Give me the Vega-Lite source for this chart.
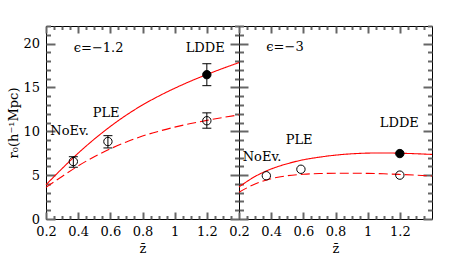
{
  "$schema": "https://vega.github.io/schema/vega-lite/v6.json",
  "padding": {"left": 7, "top": 24, "right": 5, "bottom": 5},
  "spacing": 0,
  "bounds": "flush",
  "config": {
    "view": {"stroke": "black", "strokeWidth": 1},
    "axis": {
      "grid": false,
      "labelColor": "black", "titleColor": "black",
      "labelFont": "DejaVu Serif", "titleFont": "DejaVu Serif",
      "labelFontSize": 13, "titleFontSize": 13, "titleFontWeight": "normal",
      "labelFlush": false, "labelOverlap": false, "format": "~g"
    }
  },
  "datasets": {
    "curves": [
      {"panel": "L", "style": "solid", "x": 0.2, "y": 3.9},
      {"panel": "L", "style": "solid", "x": 0.3, "y": 5.75},
      {"panel": "L", "style": "solid", "x": 0.4, "y": 7.5},
      {"panel": "L", "style": "solid", "x": 0.5, "y": 9.1},
      {"panel": "L", "style": "solid", "x": 0.6, "y": 10.55},
      {"panel": "L", "style": "solid", "x": 0.7, "y": 11.85},
      {"panel": "L", "style": "solid", "x": 0.8, "y": 13.0},
      {"panel": "L", "style": "solid", "x": 0.9, "y": 14.0},
      {"panel": "L", "style": "solid", "x": 1.0, "y": 14.9},
      {"panel": "L", "style": "solid", "x": 1.1, "y": 15.72},
      {"panel": "L", "style": "solid", "x": 1.2, "y": 16.47},
      {"panel": "L", "style": "solid", "x": 1.3, "y": 17.17},
      {"panel": "L", "style": "solid", "x": 1.4, "y": 17.83},
      {"panel": "L", "style": "dashed", "x": 0.2, "y": 3.6},
      {"panel": "L", "style": "dashed", "x": 0.3, "y": 4.85},
      {"panel": "L", "style": "dashed", "x": 0.4, "y": 6.05},
      {"panel": "L", "style": "dashed", "x": 0.5, "y": 7.1},
      {"panel": "L", "style": "dashed", "x": 0.6, "y": 8.0},
      {"panel": "L", "style": "dashed", "x": 0.7, "y": 8.78},
      {"panel": "L", "style": "dashed", "x": 0.8, "y": 9.45},
      {"panel": "L", "style": "dashed", "x": 0.9, "y": 10.0},
      {"panel": "L", "style": "dashed", "x": 1.0, "y": 10.47},
      {"panel": "L", "style": "dashed", "x": 1.1, "y": 10.88},
      {"panel": "L", "style": "dashed", "x": 1.2, "y": 11.24},
      {"panel": "L", "style": "dashed", "x": 1.3, "y": 11.57},
      {"panel": "L", "style": "dashed", "x": 1.4, "y": 11.87},
      {"panel": "R", "style": "solid", "x": 0.2, "y": 3.65},
      {"panel": "R", "style": "solid", "x": 0.3, "y": 4.85},
      {"panel": "R", "style": "solid", "x": 0.4, "y": 5.7},
      {"panel": "R", "style": "solid", "x": 0.5, "y": 6.3},
      {"panel": "R", "style": "solid", "x": 0.6, "y": 6.75},
      {"panel": "R", "style": "solid", "x": 0.7, "y": 7.05},
      {"panel": "R", "style": "solid", "x": 0.8, "y": 7.28},
      {"panel": "R", "style": "solid", "x": 0.9, "y": 7.43},
      {"panel": "R", "style": "solid", "x": 1.0, "y": 7.51},
      {"panel": "R", "style": "solid", "x": 1.1, "y": 7.53},
      {"panel": "R", "style": "solid", "x": 1.2, "y": 7.5},
      {"panel": "R", "style": "solid", "x": 1.3, "y": 7.44},
      {"panel": "R", "style": "solid", "x": 1.4, "y": 7.36},
      {"panel": "R", "style": "dashed", "x": 0.2, "y": 3.05},
      {"panel": "R", "style": "dashed", "x": 0.3, "y": 4.0},
      {"panel": "R", "style": "dashed", "x": 0.4, "y": 4.6},
      {"panel": "R", "style": "dashed", "x": 0.5, "y": 4.93},
      {"panel": "R", "style": "dashed", "x": 0.6, "y": 5.1},
      {"panel": "R", "style": "dashed", "x": 0.7, "y": 5.18},
      {"panel": "R", "style": "dashed", "x": 0.8, "y": 5.22},
      {"panel": "R", "style": "dashed", "x": 0.9, "y": 5.22},
      {"panel": "R", "style": "dashed", "x": 1.0, "y": 5.2},
      {"panel": "R", "style": "dashed", "x": 1.1, "y": 5.15},
      {"panel": "R", "style": "dashed", "x": 1.2, "y": 5.08},
      {"panel": "R", "style": "dashed", "x": 1.3, "y": 5.0},
      {"panel": "R", "style": "dashed", "x": 1.4, "y": 4.9}
    ],
    "points": [
      {"panel": "L", "x": 0.37, "y": 6.55, "lo": 5.9, "hi": 7.1, "filled": "no"},
      {"panel": "L", "x": 0.585, "y": 8.83, "lo": 8.1, "hi": 9.5, "filled": "no"},
      {"panel": "L", "x": 1.2, "y": 16.45, "lo": 15.2, "hi": 17.7, "filled": "yes"},
      {"panel": "L", "x": 1.2, "y": 11.2, "lo": 10.35, "hi": 12.1, "filled": "no"},
      {"panel": "R", "x": 0.37, "y": 4.93, "lo": null, "hi": null, "filled": "no"},
      {"panel": "R", "x": 0.585, "y": 5.67, "lo": null, "hi": null, "filled": "no"},
      {"panel": "R", "x": 1.2, "y": 7.46, "lo": null, "hi": null, "filled": "yes"},
      {"panel": "R", "x": 1.2, "y": 5.0, "lo": null, "hi": null, "filled": "no"}
    ],
    "labels": [
      {"panel": "L", "x": 0.527, "y": 19.5, "text": "ϵ=−1.2"},
      {"panel": "L", "x": 1.19, "y": 19.5, "text": "LDDE"},
      {"panel": "L", "x": 0.574, "y": 12.07, "text": "PLE"},
      {"panel": "L", "x": 0.347, "y": 10.05, "text": "NoEv."},
      {"panel": "R", "x": 0.486, "y": 19.6, "text": "ϵ=−3"},
      {"panel": "R", "x": 1.197, "y": 11.0, "text": "LDDE"},
      {"panel": "R", "x": 0.574, "y": 9.0, "text": "PLE"},
      {"panel": "R", "x": 0.343, "y": 7.09, "text": "NoEv."}
    ]
  },
  "hconcat": [
    {
      "width": 193, "height": 193,
      "resolve": {"axis": {"x": "independent", "y": "independent"}},
      "layer": [
        {
          "data": {"name": "curves"},
          "transform": [{"filter": "datum.panel === 'L'"}],
          "mark": {"type": "line", "color": "#ff0000", "strokeWidth": 1.1, "interpolate": "monotone"},
          "encoding": {
            "x": {"field": "x", "type": "quantitative", "scale": {"domain": [0.2, 1.4], "nice": false, "zero": false},
              "axis": {"orient": "bottom", "values": [0.2, 0.4, 0.6, 0.8, 1, 1.2], "domain": false, "ticks": true, "tickColor": "#666", "tickWidth": 2, "tickSize": 7, "offset": -7, "labelPadding": 6.5, "title": "z̄", "titlePadding": 4}},
            "y": {"field": "y", "type": "quantitative", "scale": {"domain": [0, 22], "nice": false, "zero": false},
              "axis": {"orient": "left", "values": [0, 5, 10, 15, 20], "domain": false, "ticks": true, "tickColor": "#666", "tickWidth": 2, "tickSize": 9, "offset": -9, "labelPadding": 6.5, "title": "r₀(h⁻¹Mpc)", "titlePadding": 2}},
            "detail": {"field": "style"},
            "strokeDash": {"field": "style", "type": "nominal", "scale": {"domain": ["solid", "dashed"], "range": [[1, 0], [9, 4]]}, "legend": null}
          }
        },
        {
          "data": {"name": "points"},
          "transform": [{"filter": "datum.panel === 'L' && isValid(datum.lo)"}],
          "mark": {"type": "rule", "color": "black", "strokeWidth": 1},
          "encoding": {
            "x": {"field": "x", "type": "quantitative", "scale": {"domain": [0.2, 1.4], "nice": false, "zero": false},
              "axis": {"orient": "bottom", "values": [0.25, 0.3, 0.35, 0.45, 0.5, 0.55, 0.65, 0.7, 0.75, 0.85, 0.9, 0.95, 1.05, 1.1, 1.15, 1.25, 1.3, 1.35], "domain": false, "ticks": true, "tickColor": "#666", "tickWidth": 2, "tickSize": 3.5, "offset": -3.5, "labels": false, "title": null}},
            "y": {"field": "lo", "type": "quantitative", "scale": {"domain": [0, 22], "nice": false, "zero": false},
              "axis": {"orient": "left", "values": [1, 2, 3, 4, 6, 7, 8, 9, 11, 12, 13, 14, 16, 17, 18, 19, 21, 22], "domain": false, "ticks": true, "tickColor": "#666", "tickWidth": 2, "tickSize": 4.5, "offset": -4.5, "labels": false, "title": null}},
            "y2": {"field": "hi"}
          }
        },
        {
          "data": {"name": "points"},
          "transform": [{"filter": "datum.panel === 'L' && isValid(datum.lo)"}],
          "mark": {"type": "tick", "orient": "horizontal", "size": 9, "thickness": 1, "color": "black", "opacity": 1},
          "encoding": {
            "x": {"field": "x", "type": "quantitative", "scale": {"domain": [0.2, 1.4], "nice": false, "zero": false},
              "axis": {"orient": "top", "values": [0.2, 0.4, 0.6, 0.8, 1, 1.2], "domain": false, "ticks": true, "tickColor": "#666", "tickWidth": 2, "tickSize": 7, "offset": -7, "labels": false, "title": null}},
            "y": {"field": "lo", "type": "quantitative", "scale": {"domain": [0, 22], "nice": false, "zero": false},
              "axis": {"orient": "right", "values": [0, 5, 10, 15, 20], "domain": false, "ticks": true, "tickColor": "#666", "tickWidth": 2, "tickSize": 9, "offset": -9, "labels": false, "title": null}}
          }
        },
        {
          "data": {"name": "points"},
          "transform": [{"filter": "datum.panel === 'L' && isValid(datum.lo)"}],
          "mark": {"type": "tick", "orient": "horizontal", "size": 9, "thickness": 1, "color": "black", "opacity": 1},
          "encoding": {
            "x": {"field": "x", "type": "quantitative", "scale": {"domain": [0.2, 1.4], "nice": false, "zero": false},
              "axis": {"orient": "top", "values": [0.25, 0.3, 0.35, 0.45, 0.5, 0.55, 0.65, 0.7, 0.75, 0.85, 0.9, 0.95, 1.05, 1.1, 1.15, 1.25, 1.3, 1.35], "domain": false, "ticks": true, "tickColor": "#666", "tickWidth": 2, "tickSize": 3.5, "offset": -3.5, "labels": false, "title": null}},
            "y": {"field": "hi", "type": "quantitative", "scale": {"domain": [0, 22], "nice": false, "zero": false},
              "axis": {"orient": "right", "values": [1, 2, 3, 4, 6, 7, 8, 9, 11, 12, 13, 14, 16, 17, 18, 19, 21, 22], "domain": false, "ticks": true, "tickColor": "#666", "tickWidth": 2, "tickSize": 4.5, "offset": -4.5, "labels": false, "title": null}}
          }
        },
        {
          "data": {"name": "points"},
          "transform": [{"filter": "datum.panel === 'L'"}],
          "mark": {"type": "point", "shape": "circle", "filled": true, "stroke": "black", "strokeWidth": 1, "size": 70, "opacity": 1},
          "encoding": {
            "x": {"field": "x", "type": "quantitative", "axis": null},
            "y": {"field": "y", "type": "quantitative", "axis": null},
            "fill": {"field": "filled", "type": "nominal", "scale": {"domain": ["yes", "no"], "range": ["black", "transparent"]}, "legend": null}
          }
        },
        {
          "data": {"name": "labels"},
          "transform": [{"filter": "datum.panel === 'L'"}],
          "mark": {"type": "text", "font": "DejaVu Serif", "fontSize": 13, "color": "black", "align": "center", "baseline": "middle"},
          "encoding": {
            "x": {"field": "x", "type": "quantitative", "axis": null},
            "y": {"field": "y", "type": "quantitative", "axis": null},
            "text": {"field": "text"}
          }
        }
      ]
    },
    {
      "width": 193, "height": 193,
      "resolve": {"axis": {"x": "independent", "y": "independent"}},
      "layer": [
        {
          "data": {"name": "curves"},
          "transform": [{"filter": "datum.panel === 'R'"}],
          "mark": {"type": "line", "color": "#ff0000", "strokeWidth": 1.1, "interpolate": "monotone"},
          "encoding": {
            "x": {"field": "x", "type": "quantitative", "scale": {"domain": [0.2, 1.4], "nice": false, "zero": false},
              "axis": {"orient": "bottom", "values": [0.2, 0.4, 0.6, 0.8, 1, 1.2], "domain": false, "ticks": true, "tickColor": "#666", "tickWidth": 2, "tickSize": 7, "offset": -7, "labelPadding": 6.5, "title": "z̄", "titlePadding": 4}},
            "y": {"field": "y", "type": "quantitative", "scale": {"domain": [0, 22], "nice": false, "zero": false},
              "axis": {"orient": "left", "values": [0, 5, 10, 15, 20], "domain": false, "ticks": true, "tickColor": "#666", "tickWidth": 2, "tickSize": 9, "offset": -9, "labels": false, "title": null}},
            "detail": {"field": "style"},
            "strokeDash": {"field": "style", "type": "nominal", "scale": {"domain": ["solid", "dashed"], "range": [[1, 0], [9, 4]]}, "legend": null}
          }
        },
        {
          "data": {"name": "points"},
          "transform": [{"filter": "datum.panel === 'R'"}],
          "mark": {"type": "point", "shape": "circle", "filled": true, "stroke": "black", "strokeWidth": 1, "size": 70, "opacity": 1},
          "encoding": {
            "x": {"field": "x", "type": "quantitative", "scale": {"domain": [0.2, 1.4], "nice": false, "zero": false},
              "axis": {"orient": "bottom", "values": [0.25, 0.3, 0.35, 0.45, 0.5, 0.55, 0.65, 0.7, 0.75, 0.85, 0.9, 0.95, 1.05, 1.1, 1.15, 1.25, 1.3, 1.35], "domain": false, "ticks": true, "tickColor": "#666", "tickWidth": 2, "tickSize": 3.5, "offset": -3.5, "labels": false, "title": null}},
            "y": {"field": "y", "type": "quantitative", "scale": {"domain": [0, 22], "nice": false, "zero": false},
              "axis": {"orient": "left", "values": [1, 2, 3, 4, 6, 7, 8, 9, 11, 12, 13, 14, 16, 17, 18, 19, 21, 22], "domain": false, "ticks": true, "tickColor": "#666", "tickWidth": 2, "tickSize": 4.5, "offset": -4.5, "labels": false, "title": null}},
            "fill": {"field": "filled", "type": "nominal", "scale": {"domain": ["yes", "no"], "range": ["black", "transparent"]}, "legend": null}
          }
        },
        {
          "data": {"name": "labels"},
          "transform": [{"filter": "datum.panel === 'R'"}],
          "mark": {"type": "text", "font": "DejaVu Serif", "fontSize": 13, "color": "black", "align": "center", "baseline": "middle"},
          "encoding": {
            "x": {"field": "x", "type": "quantitative", "scale": {"domain": [0.2, 1.4], "nice": false, "zero": false},
              "axis": {"orient": "top", "values": [0.2, 0.4, 0.6, 0.8, 1, 1.2], "domain": false, "ticks": true, "tickColor": "#666", "tickWidth": 2, "tickSize": 7, "offset": -7, "labels": false, "title": null}},
            "y": {"field": "y", "type": "quantitative", "scale": {"domain": [0, 22], "nice": false, "zero": false},
              "axis": {"orient": "right", "values": [0, 5, 10, 15, 20], "domain": false, "ticks": true, "tickColor": "#666", "tickWidth": 2, "tickSize": 9, "offset": -9, "labels": false, "title": null}},
            "text": {"field": "text"}
          }
        },
        {
          "data": {"name": "labels"},
          "transform": [{"filter": "datum.panel === 'R'"}],
          "mark": {"type": "text", "font": "DejaVu Serif", "fontSize": 13, "opacity": 0, "text": ""},
          "encoding": {
            "x": {"field": "x", "type": "quantitative", "scale": {"domain": [0.2, 1.4], "nice": false, "zero": false},
              "axis": {"orient": "top", "values": [0.25, 0.3, 0.35, 0.45, 0.5, 0.55, 0.65, 0.7, 0.75, 0.85, 0.9, 0.95, 1.05, 1.1, 1.15, 1.25, 1.3, 1.35], "domain": false, "ticks": true, "tickColor": "#666", "tickWidth": 2, "tickSize": 3.5, "offset": -3.5, "labels": false, "title": null}},
            "y": {"field": "y", "type": "quantitative", "scale": {"domain": [0, 22], "nice": false, "zero": false},
              "axis": {"orient": "right", "values": [1, 2, 3, 4, 6, 7, 8, 9, 11, 12, 13, 14, 16, 17, 18, 19, 21, 22], "domain": false, "ticks": true, "tickColor": "#666", "tickWidth": 2, "tickSize": 4.5, "offset": -4.5, "labels": false, "title": null}}
          }
        }
      ]
    }
  ]
}
